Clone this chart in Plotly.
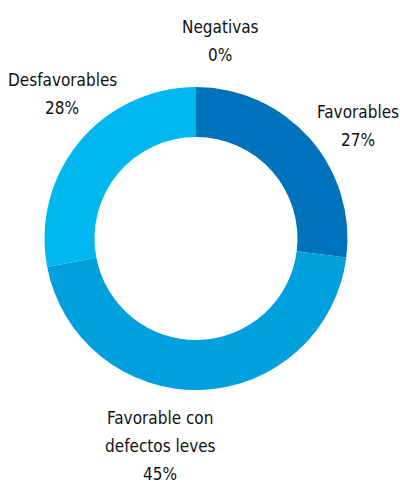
import plotly.graph_objects as go

categories = ["Favorables", "Favorable con defectos leves", "Desfavorables", "Negativas"]
display_lines = [["Favorables"], ["Favorable con", "defectos leves"], ["Desfavorables"], ["Negativas"]]
values = [27, 45, 28, 0]
colors = ["#0072BB", "#009FDD", "#00B8EF", "#7FB3D5"]

# first-line centre of each label block (pixels in the 400x483 canvas)
label_px = [(358, 112), (160, 418), (62, 80), (220, 27)]
line_gap = 28

W, H = 400, 483
fig = go.Figure(go.Pie(
    labels=categories,
    values=values,
    sort=False,
    direction="clockwise",
    rotation=0,
    hole=0.67,
    marker=dict(colors=colors, line=dict(width=0)),
    textinfo="none",
    hoverinfo="label+percent",
    domain=dict(x=[44 / W, 348 / W], y=[1 - 390 / H, 1 - 87 / H]),
    showlegend=False,
))

font = dict(family="Liberation Sans Narrow, DejaVu Sans Condensed, sans-serif", size=17, color="#111111")
for lines, v, (px, py) in zip(display_lines, values, label_px):
    for i, t in enumerate(lines + [f"{v}%"]):
        fig.add_annotation(
            x=px / W, y=1 - (py + i * line_gap) / H, xref="paper", yref="paper",
            text=t, showarrow=False,
            xanchor="center", yanchor="middle", align="center",
            font=font,
        )

fig.update_layout(
    width=W, height=H,
    margin=dict(l=0, r=0, t=0, b=0),
    paper_bgcolor="white", plot_bgcolor="white",
)

fig.write_html("out.html")
